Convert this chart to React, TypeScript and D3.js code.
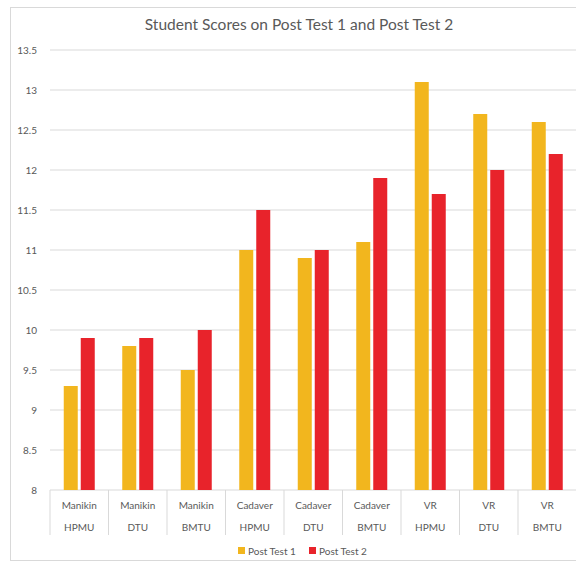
import React from "react";
import * as d3 from "d3";

const methods = ["Manikin", "Manikin", "Manikin", "Cadaver", "Cadaver", "Cadaver", "VR", "VR", "VR"];
const schools = ["HPMU", "DTU", "BMTU", "HPMU", "DTU", "BMTU", "HPMU", "DTU", "BMTU"];
const postTest1 = [9.3, 9.8, 9.5, 11.0, 10.9, 11.1, 13.1, 12.7, 12.6];
const postTest2 = [9.9, 9.9, 10.0, 11.5, 11.0, 11.9, 11.7, 12.0, 12.2];
const yTicks = [8, 8.5, 9, 9.5, 10, 10.5, 11, 11.5, 12, 12.5, 13, 13.5];
const seriesNames = ["Post Test 1", "Post Test 2"];
const seriesColors = ["#F2B61E", "#E8232B"];

const W = 576;
const H = 563;
const plot = { left: 50, right: 576.5, top: 50, bottom: 490 };
const font = "Lato, 'Open Sans', sans-serif";
const textColor = "#595959";
const gridColor = "#d9d9d9";

export default function App() {
  const idx = methods.map((_, i) => i);
  const x = d3.scaleBand<number>().domain(idx).range([plot.left, plot.right]).padding(0);
  const y = d3.scaleLinear().domain([8, 13.5]).range([plot.bottom, plot.top]);
  const barW = 14;
  const gap = 3;
  const series = [postTest1, postTest2];

  return (
    <svg width={W} height={H} style={{ position: "absolute", left: 0, top: 0, background: "#fff" }}>
      <rect x={10.5} y={7.5} width={600} height={553} fill="#fff" stroke={gridColor} />
      <text x={299} y={30} textAnchor="middle" fontFamily={font} fontSize={15.5} fill={textColor}>
        Student Scores on Post Test 1 and Post Test 2
      </text>
      {yTicks.map((t) => (
        <g key={t}>
          <line x1={plot.left} x2={plot.right} y1={y(t)} y2={y(t)} stroke={gridColor} strokeWidth={1} />
          <text x={37} y={y(t)} dy="0.35em" textAnchor="end" fontFamily={font} fontSize={10} fill={textColor}>
            {t}
          </text>
        </g>
      ))}
      {idx.map((i) => {
        const x0 = x(i)!;
        return (
          <line key={"sep" + i} x1={x0} x2={x0} y1={plot.bottom} y2={535} stroke={gridColor} />
        );
      })}
      <line x1={plot.right} x2={plot.right} y1={plot.bottom} y2={535} stroke={gridColor} />
      {idx.map((i) => {
        const cx = x(i)! + x.bandwidth() / 2;
        return (
          <g key={"bars" + i}>
            {series.map((s, k) => {
              const bx = k === 0 ? cx - gap / 2 - barW : cx + gap / 2;
              return (
                <rect
                  key={k}
                  x={bx}
                  y={y(s[i])}
                  width={barW}
                  height={y(8) - y(s[i])}
                  fill={seriesColors[k]}
                />
              );
            })}
            <text x={cx} y={509} textAnchor="middle" fontFamily={font} fontSize={10} fill={textColor}>
              {methods[i]}
            </text>
            <text x={cx} y={531} textAnchor="middle" fontFamily={font} fontSize={10} fill={textColor}>
              {schools[i]}
            </text>
          </g>
        );
      })}
      {seriesNames.map((n, k) => {
        const lx = k === 0 ? 238 : 309;
        return (
          <g key={n}>
            <rect x={lx} y={547} width={7} height={7} fill={seriesColors[k]} />
            <text x={lx + 10} y={551} dy="0.35em" fontFamily={font} fontSize={10} fill={textColor}>
              {n}
            </text>
          </g>
        );
      })}
    </svg>
  );
}
